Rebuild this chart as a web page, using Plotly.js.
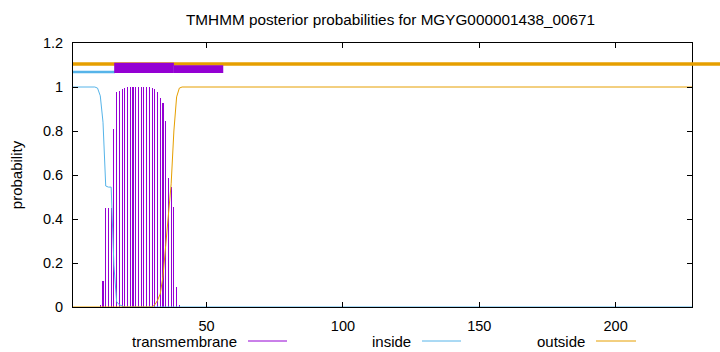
<!DOCTYPE html>
<html>
<head>
<meta charset="utf-8">
<script src="https://cdn.plot.ly/plotly-3.0.1.min.js"></script>
<style>html,body{margin:0;padding:0;background:#fff;}#chart{width:720px;height:352px;}</style>
</head>
<body>
<div id="chart"></div>
<script>
// ---- data ----
const seqLength = 228;
const xTicks = [50, 100, 150, 200];
const yTicks = [0, 0.2, 0.4, 0.6, 0.8, 1, 1.2];

// transmembrane posterior (impulses), residues with non-zero probability
const tmResidues = [11,12,13,14,15,16,17,18,19,20,21,22,23,24,25,26,27,28,29,30,31,32,33,34,35,36,37,38,39,40];
const tmProb     = [0.01,0.12,0.45,0.45,0.45,0.81,0.976,0.98,0.99,0.995,1,1,1,1,1,1,1,1,1,0.995,0.99,0.976,0.95,0.926,0.847,0.588,0.544,0.456,0.09,0.01];

// inside posterior
const inResidues = [1, 9, 10, 11, 12, 13, 14, 15, 16, 17, 18, 19, 20, 228];
const inProb     = [1, 1, 0.995, 0.96, 0.84, 0.55, 0.545, 0.545, 0.19, 0.024, 0.01, 0.005, 0, 0];

// outside posterior
const outResidues = [1, 30, 31, 32, 33, 34, 35, 36, 37, 38, 39, 40, 41, 228];
const outProb     = [0, 0, 0.01, 0.03, 0.06, 0.14, 0.28, 0.42, 0.56, 0.8, 0.955, 0.995, 1, 1];

// predicted topology segments shown above the curves
const topoInside = [1, 16.4];
const topoTM     = [16.1, 38.0];
const topoTMExt  = [38.0, 56.1];
const topoOutsideStart = 1;

const seriesNames = ['transmembrane', 'inside', 'outside'];
const seriesColors = ['#9400d3', '#56b4e9', '#e69f00'];

// ---- layout geometry ----
const W = 720, H = 352;
const L = 73, R = 692, T = 43, B = 307;
const font = 'Liberation Sans, Arial, sans-serif';
const xRange = [1, seqLength];
const yRange = [0, 1.2];
const px2paperX = px => (px - L) / (R - L);
const py2paperY = py => (B - py) / (B - T);
const d2paperX = v => (v - xRange[0]) / (xRange[1] - xRange[0]);
const d2paperY = v => (v - yRange[0]) / (yRange[1] - yRange[0]);

const traces = [
  {type: 'bar', x: tmResidues, y: tmProb, width: 0.42, name: seriesNames[0],
   marker: {color: seriesColors[0], line: {width: 0}}, hoverinfo: 'skip'},
  {type: 'scatter', mode: 'lines', x: inResidues, y: inProb, name: seriesNames[1],
   line: {color: seriesColors[1], width: 1}, hoverinfo: 'skip'},
  {type: 'scatter', mode: 'lines', x: outResidues, y: outProb, name: seriesNames[2],
   line: {color: seriesColors[2], width: 1}, hoverinfo: 'skip'}
];

const shapes = [
  // outside bar (extends past the frame like the gnuplot arrow)
  {type: 'line', xref: 'paper', yref: 'paper',
   x0: d2paperX(topoOutsideStart), x1: px2paperX(722), y0: d2paperY(1.105), y1: d2paperY(1.105),
   line: {color: seriesColors[2], width: 3.5}},
  {type: 'line', xref: 'x', yref: 'y', x0: topoInside[0], x1: topoInside[1], y0: 1.068, y1: 1.068,
   line: {color: seriesColors[1], width: 2.5}},
  {type: 'rect', xref: 'x', yref: 'y', x0: topoTM[0], x1: topoTM[1], y0: 1.064, y1: 1.11,
   fillcolor: seriesColors[0], line: {width: 0}},
  {type: 'rect', xref: 'x', yref: 'y', x0: topoTMExt[0], x1: topoTMExt[1], y0: 1.064, y1: 1.099,
   fillcolor: seriesColors[0], line: {width: 0}}
];

// legend: gnuplot style, text then sample line
const legendTextRight = [238.5, 412.5, 586.5];
const legendLine = [[248, 287], [422, 461], [596, 636]];
const legendY = 341;
const annotations = [];
seriesNames.forEach((n, i) => {
  annotations.push({text: n, xref: 'paper', yref: 'paper', x: px2paperX(legendTextRight[i]), y: py2paperY(legendY),
    xanchor: 'right', yanchor: 'middle', showarrow: false, font: {family: font, size: 15, color: '#000'}});
  shapes.push({type: 'line', xref: 'paper', yref: 'paper', x0: px2paperX(legendLine[i][0]), x1: px2paperX(legendLine[i][1]),
    y0: py2paperY(legendY), y1: py2paperY(legendY), line: {color: seriesColors[i], width: 1}});
});

const axisCommon = {
  showline: true, linecolor: '#000', linewidth: 1, mirror: 'ticks',
  ticks: 'inside', ticklen: 5, tickcolor: '#000', tickwidth: 1,
  showgrid: false, zeroline: false, fixedrange: true,
  tickfont: {family: font, size: 14.5, color: '#000'}
};

const layout = {
  width: W, height: H,
  margin: {l: L, r: W - R, t: T, b: H - B, pad: 0},
  paper_bgcolor: '#fff', plot_bgcolor: '#fff',
  showlegend: false,
  title: {text: 'TMHMM posterior probabilities for MGYG000001438_00671',
    font: {family: font, size: 15.3, color: '#000'},
    xref: 'container', x: 390.5 / W, xanchor: 'center', yref: 'container', y: 1 - 20 / H, yanchor: 'middle'},
  xaxis: Object.assign({}, axisCommon, {range: xRange, tickvals: xTicks, ticktext: xTicks.map(String), ticklabelstandoff: 6}),
  yaxis: Object.assign({}, axisCommon, {range: yRange, tickvals: yTicks, ticktext: yTicks.map(String), ticklabelstandoff: 6,
    title: {text: 'probability', font: {family: font, size: 15, color: '#000'}, standoff: 16}}),
  shapes: shapes,
  annotations: annotations,
  bargap: 0
};

Plotly.newPlot('chart', traces, layout, {displayModeBar: false, staticPlot: true});
</script>
</body>
</html>
